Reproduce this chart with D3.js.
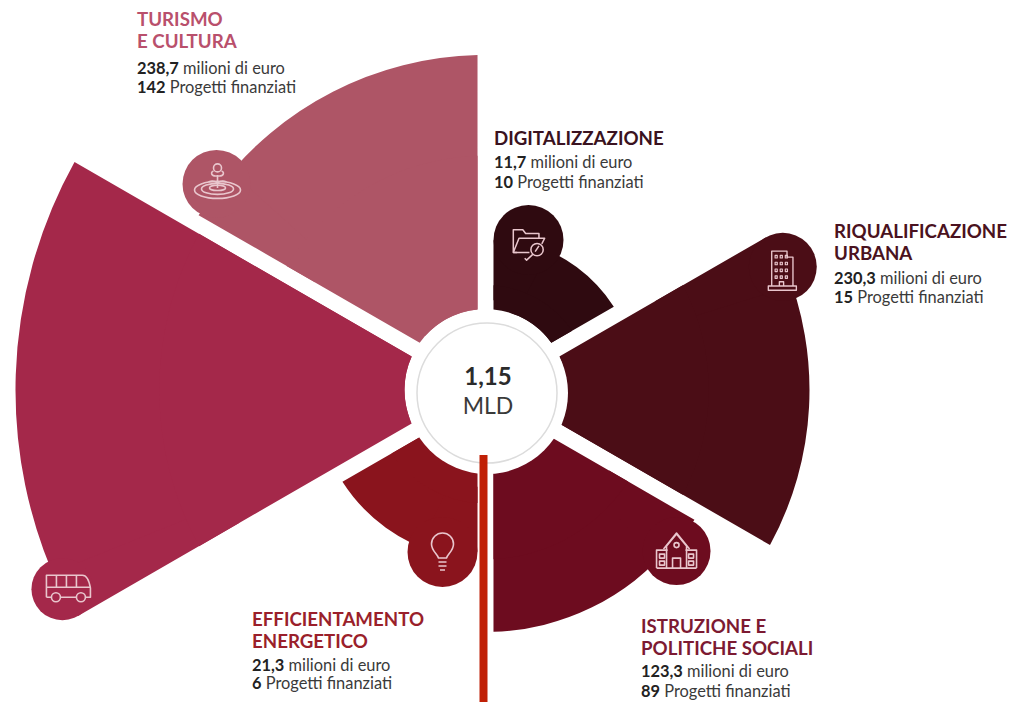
<!DOCTYPE html>
<html><head><meta charset="utf-8">
<script src="https://cdn.jsdelivr.net/npm/d3@7"></script>
<style>html,body{margin:0;padding:0;background:#fff}svg{display:block}</style>
</head><body><svg id="c" width="1011" height="702"></svg>
<script>
// Data, clockwise from the top
const keys   = ["dig","riq","ist","eff","bus","tur"];
const values = [11.7, 230.3, 123.3, 21.3, 524.7, 238.7];
const projects = [10, 15, 89, 6, null, 142];
const valueLabels = ["11,7","230,3","123,3","21,3",null,"238,7"];
const titles = [["DIGITALIZZAZIONE"],["RIQUALIFICAZIONE","URBANA"],["ISTRUZIONE E","POLITICHE SOCIALI"],["EFFICIENTAMENTO","ENERGETICO"],[],["TURISMO","E CULTURA"]];
const totalLabel = ["1,15","MLD"];

// Styles
const fills = ["#2f0a10","#4b0d16","#6d0c1f","#8a141d","#a4284a","#ae5566"];
const titleFills = ["#3a1220","#4a1220","#7c1a32","#9a1f2b",null,"#b9506c"];
const bubbleR = [35,34,34,35,31,34];
const bubbleAlong = [-3,-5,4,-8,-4,1];
const bubbleExtra = [0,0,2,0,0,2];
const iconOffset = [[0,3],[0,3],[0,0],[0,0],[6,-1],[1,-3]];
const iconScale = [0.95,0.85,1,1,1,1];
const textPos = [[494,145],[834,238],[641,633],[252,626],null,[137,26]];
const bodyGap = [[23,43],[46,65],[44,64],[45,63],null,[48,67]];

const W=1011,H=702,cx=485.5,cy=390,inner=81,gap=16;
const svg=d3.select("#c");
const rScale=d3.scaleLinear().domain([11.7,21.3,123.3,230.3,238.7,524.7]).range([153,170,242,324,335,470]);
const pie=d3.pie().sort(null).value(()=>1).startAngle(0).endAngle(2*Math.PI);
const arcs=pie(values);
const arc=d3.arc().innerRadius(inner).padRadius(inner).padAngle(gap/inner);
const wedgeArc=d3.arc().padRadius(inner).padAngle(gap/inner);
const g=svg.append("g").attr("transform",`translate(${cx},${cy})`);

const icons={
 tur:s=>{s.append("ellipse").attr("cy",9).attr("rx",23).attr("ry",8.5);s.append("ellipse").attr("cy",8).attr("rx",16).attr("ry",5.5);s.append("ellipse").attr("cy",7).attr("rx",8).attr("ry",2.6);
  s.append("path").attr("d","M0 7V-6M0 -5C-7 -4 -7 -9 -4 -10M0 -5C7 -4 7 -9 4 -10M0 2C-4 -1 -7 0 -9 1M0 2C4 -1 7 0 9 1");s.append("circle").attr("cy",-13).attr("r",4);},
 dig:s=>{s.append("path").attr("d","M-12 10H-16V-14H-6L-3 -10H11V-5");s.append("path").attr("d","M-16 10L-10 -5H17L14 1");s.append("path").attr("d","M-16 10H1");
  s.append("circle").attr("cx",9).attr("cy",7).attr("r",6.5);s.append("path").attr("d","M4.5 12L-2 18L-4 16");s.append("path").attr("d","M11 3L7 9");},
 riq:s=>{s.append("path").attr("d","M-13 19V-22H5V-15H12V19");s.append("path").attr("d","M-17 19H16V24H-17Z");
  for(let r=0;r<4;r++)for(let c=0;c<3;c++)s.append("rect").attr("x",-9+c*6).attr("y",-17+r*8).attr("width",2.5).attr("height",3).attr("stroke-width",1.4);
  s.append("path").attr("d","M-4 19V14H1V19");},
 ist:s=>{s.append("path").attr("d","M-20 17V-1H-9M20 17V-1H9M-20 17H20");s.append("path").attr("d","M-10 17V-5L0 -17L10 -5V17M-13 -2L0 -18L13 -2");s.append("path").attr("d","M-4 17V7H4V17");s.append("circle").attr("cy",-6).attr("r",2.5);
  s.append("path").attr("d","M-17 3H-12V7H-17ZM-17 10H-12V14H-17ZM12 3H17V7H12ZM12 10H17V14H12Z");},
 eff:s=>{s.append("path").attr("d","M-4 6C-5 2 -11 -1 -11 -8A11 11 0 1 1 11 -8C11 -1 5 2 4 6Z");s.append("path").attr("d","M-4 10H4M-4 14H4M-2.5 18H2.5");},
 bus:s=>{s.append("path").attr("d","M-22 9V-13H14C19 -13 21 -6 22 0V9H17M-22 9H-17M-8 9H8");s.append("path").attr("d","M-22 -1H22M-12 -13V-1M-2 -13V-1M8 -13V-1");
  s.append("circle").attr("cx",-12.5).attr("cy",9).attr("r",4.5);s.append("circle").attr("cx",12.5).attr("cy",9).attr("r",4.5);}
};

arcs.forEach((d,i)=>{
  const a=d.startAngle, R=rScale(d.data), along=R+bubbleAlong[i], r=bubbleR[i], perp=gap/2+r+bubbleExtra[i];
  // Body of the sector: its outer corner on the bubble side is hidden inside the bubble
  const body=arc.outerRadius(R)({startAngle:a+r/R,endAngle:d.endAngle,padAngle:gap/inner});
  g.append("path").attr("d",body).attr("fill",fills[i]);
  // Wedge that carries the straight edge up to the bubble
  const wedge=wedgeArc.innerRadius(along*0.6).outerRadius(along)({startAngle:a,endAngle:a+(1.6*r+gap)/along,padAngle:gap/inner});
  g.append("path").attr("d",wedge).attr("fill",fills[i]);
  // Inner fill between the two pieces near the hub
  const hub=arc.outerRadius(Math.min(R,along)*0.7)({startAngle:a,endAngle:d.endAngle,padAngle:gap/inner});
  g.append("path").attr("d",hub).attr("fill",fills[i]);
  const x=Math.sin(a)*along+Math.cos(a)*perp, y=-Math.cos(a)*along+Math.sin(a)*perp;
  g.append("circle").attr("cx",x).attr("cy",y).attr("r",r).attr("fill",fills[i]);
  const ic=g.append("g").attr("transform",`translate(${x+iconOffset[i][0]},${y+iconOffset[i][1]}) scale(${iconScale[i]})`)
    .attr("fill","none").attr("stroke","#e9c6cd").attr("stroke-width",1.6).attr("stroke-linejoin","round");
  icons[keys[i]](ic);
});

// Centre disc
const dx=487,dy=393;
svg.append("circle").attr("cx",dx).attr("cy",dy).attr("r",81).attr("fill","#fff");
svg.append("circle").attr("cx",dx).attr("cy",dy).attr("r",70).attr("fill","#fff").attr("stroke","#dcdcdc").attr("stroke-width",1.5);
const font="Lato, 'Open Sans', sans-serif";
svg.append("text").attr("x",488).attr("y",385).attr("text-anchor","middle").attr("font-family",font).attr("font-weight",700).attr("font-size",24).attr("fill","#2b2b2b").text(totalLabel[0]);
svg.append("text").attr("x",488).attr("y",414).attr("text-anchor","middle").attr("font-family",font).attr("font-size",23).attr("fill","#3a3a3a").text(totalLabel[1]);

// Red rule
svg.append("rect").attr("x",479.5).attr("y",455).attr("width",8).attr("height",H-455).attr("fill","#c02006");

// Labels
keys.forEach((k,i)=>{
  if(!textPos[i])return;
  const [x,y]=textPos[i];
  titles[i].forEach((t,j)=>svg.append("text").attr("x",x).attr("y",y+j*22).attr("font-family",font).attr("font-weight",700)
    .attr("font-size",18.7).attr("fill",titleFills[i]).text(t));
  const l1=svg.append("text").attr("x",x).attr("y",y+bodyGap[i][0]).attr("font-family",font).attr("font-size",16.4).attr("fill","#3a3a3a");
  l1.append("tspan").attr("font-weight",700).attr("fill","#222").text(valueLabels[i]);
  l1.append("tspan").text(" milioni di euro");
  const l2=svg.append("text").attr("x",x).attr("y",y+bodyGap[i][1]).attr("font-family",font).attr("font-size",16.4).attr("fill","#3a3a3a");
  l2.append("tspan").attr("font-weight",700).attr("fill","#222").text(projects[i]);
  l2.append("tspan").text(" Progetti finanziati");
});
</script></body></html>
